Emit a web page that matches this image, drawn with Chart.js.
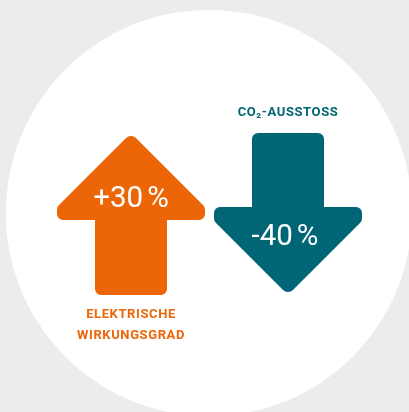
<!DOCTYPE html>
<html>
<head>
<meta charset="utf-8">
<script src="https://cdn.jsdelivr.net/npm/chart.js@4"></script>
<style>
  html, body { margin: 0; padding: 0; background: #ececec; }
  #wrap { width: 409px; height: 412px; position: relative; }
  .pre { font-family: Roboto; position: absolute; left: -999px; top: -999px; }
</style>
</head>
<body>
<span class="pre" style="font-weight:400">+30 %</span>
<span class="pre" style="font-weight:700">CO₂-AUSSTOSS</span>
<div id="wrap"><canvas id="c" width="409" height="412"></canvas></div>
<script>
// Data
const categories = [['ELEKTRISCHE', 'WIRKUNGSGRAD'], ['CO\u2082-AUSSTOSS']];
const values = [30, -40];
const valueNumbers = ['+30', '-40'];
const valueUnit = '%';
const colors = ['#ec6608', '#006574'];

function roundedPoly(ctx, pts, radii) {
  const n = pts.length;
  ctx.beginPath();
  const start = [(pts[0][0] + pts[n - 1][0]) / 2, (pts[0][1] + pts[n - 1][1]) / 2];
  ctx.moveTo(start[0], start[1]);
  for (let i = 0; i < n; i++) {
    const p = pts[i], q = pts[(i + 1) % n];
    if (radii[i] > 0) ctx.arcTo(p[0], p[1], q[0], q[1], radii[i]);
    else ctx.lineTo(p[0], p[1]);
  }
  ctx.closePath();
}

const backdrop = {
  id: 'backdrop',
  beforeDraw(chart) {
    const ctx = chart.ctx;
    ctx.save();
    ctx.fillStyle = '#ececec';
    ctx.fillRect(0, 0, chart.width, chart.height);
    ctx.fillStyle = '#ffffff';
    ctx.beginPath();
    ctx.arc(chart.width * 0.511, chart.height * 0.517, chart.height * 0.493, 0, Math.PI * 2);
    ctx.fill();
    ctx.restore();
  }
};

const cornerRadii = [7, 6, 6, 0, 6, 6, 0, 6, 6];

const arrows = {
  id: 'arrows',
  afterDatasetsDraw(chart) {
    const ctx = chart.ctx;
    const area = chart.chartArea;
    const meta = chart.getDatasetMeta(0);
    const top = area.top, bottom = area.bottom, h = bottom - top;
    meta.data.forEach((bar, i) => {
      const v = values[i];
      const cx = bar.x;
      const w = bar.width;
      const sw = w * 72 / 148;
      const half = w / 2;
      ctx.save();
      ctx.fillStyle = colors[i];
      let pts;
      if (v >= 0) {
        const diag = top + half;
        const headY = top + h * 0.537;
        pts = [
          [cx, top], [cx + half, diag], [cx + half, headY], [cx + sw / 2, headY],
          [cx + sw / 2, bottom], [cx - sw / 2, bottom], [cx - sw / 2, headY],
          [cx - half, headY], [cx - half, diag]
        ];
      } else {
        const diag = bottom - half;
        const headY = bottom - h * 0.543;
        pts = [
          [cx, bottom], [cx - half, diag], [cx - half, headY], [cx - sw / 2, headY],
          [cx - sw / 2, top], [cx + sw / 2, top], [cx + sw / 2, headY],
          [cx + half, headY], [cx + half, diag]
        ];
      }
      roundedPoly(ctx, pts, cornerRadii);
      ctx.fill();

      // value text: number + small gap + %
      ctx.fillStyle = '#ffffff';
      ctx.font = '400 29.5px Roboto';
      ctx.textAlign = 'left';
      ctx.textBaseline = 'alphabetic';
      const gap = 4;
      const wn = ctx.measureText(valueNumbers[i]).width;
      const wp = ctx.measureText(valueUnit).width;
      const tx = (v >= 0 ? cx : cx - 3) - (wn + gap + wp) / 2;
      const ty = v >= 0 ? top + h * 0.457 : bottom - h * 0.309;
      ctx.fillText(valueNumbers[i], tx, ty);
      ctx.fillText(valueUnit, tx + wn + gap, ty);

      // category label
      ctx.fillStyle = colors[i];
      ctx.font = '700 13px Roboto';
      ctx.textAlign = 'center';
      if ('letterSpacing' in ctx) ctx.letterSpacing = '0.6px';
      ctx.textBaseline = 'middle';
      const lines = categories[i];
      if (v >= 0) {
        lines.forEach((ln, k) => ctx.fillText(ln, cx, bottom + 20 + k * 21));
      } else {
        lines.forEach((ln, k) => ctx.fillText(ln, cx, top - 20 - (lines.length - 1 - k) * 21));
      }
      ctx.restore();
    });
  }
};

function build() {
  new Chart(document.getElementById('c'), {
    type: 'bar',
    data: {
      labels: categories,
      datasets: [{
        data: values,
        backgroundColor: 'rgba(0,0,0,0)',
        borderWidth: 0,
        categoryPercentage: 1,
        barPercentage: 148 / 157
      }]
    },
    options: {
      responsive: false,
      animation: false,
      devicePixelRatio: 1,
      layout: { padding: { left: 52.5, right: 42.5, top: 133, bottom: 117 } },
      plugins: { legend: { display: false }, tooltip: { enabled: false } },
      scales: {
        x: { display: false },
        y: { display: false, min: -50, max: 50 }
      }
    },
    plugins: [backdrop, arrows]
  });
}

Promise.all([
  document.fonts.load('400 29.5px Roboto'),
  document.fonts.load('700 13px Roboto')
]).then(build, build);
</script>
</body>
</html>
